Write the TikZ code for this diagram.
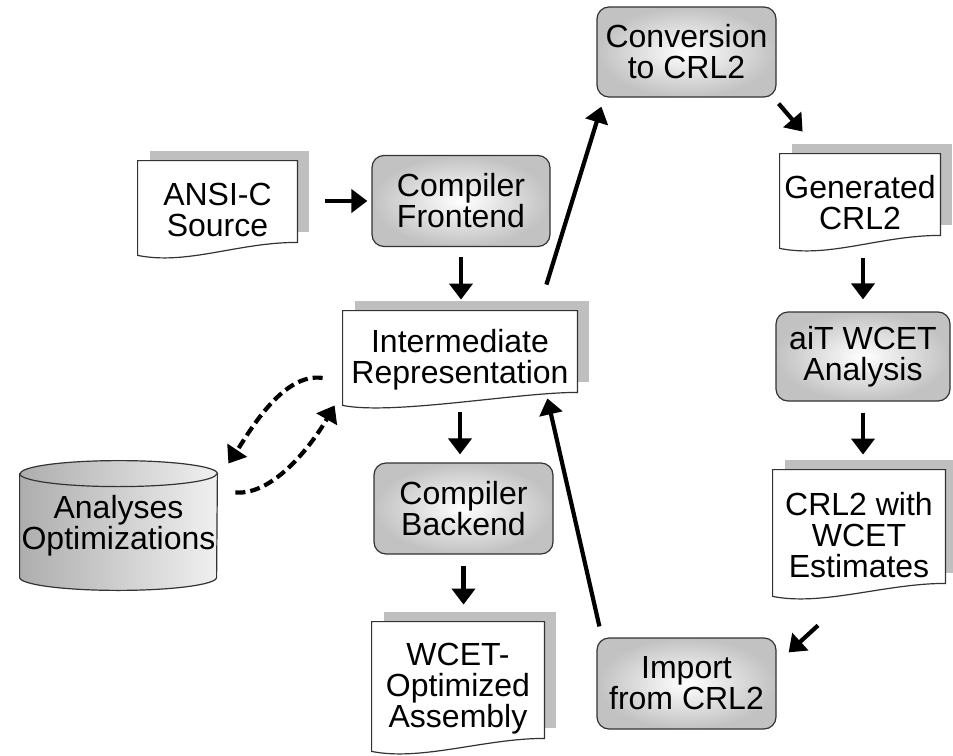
\documentclass[tikz,border=0pt]{standalone}
\usepackage{fontspec}
\setmainfont{Liberation Sans}
\usetikzlibrary{arrows.meta,backgrounds}
\begin{document}
\begin{tikzpicture}[x=0.5pt,y=-0.5pt]
  \tikzset{proc/.style = {draw=black!80, line width=0.6pt, rounded corners=6pt, inner color=white, outer color=black!24, inner sep=0pt, align=center, font=\fontsize{16}{15.5}\selectfont}}
  \tikzset{doc/.style = {inner sep=0pt, align=center, font=\fontsize{16}{15.5}\selectfont}}
  \tikzset{flow/.style = {-{Triangle[length=8pt,width=11.5pt]}, line width=2.1pt}}
  \tikzset{dflow/.style = {flow, dash pattern=on 5pt off 2.5pt}}
  \useasboundingbox (0,0) rectangle (953,755);
  % Draw processing steps
  \node[proc, minimum width=89.5pt, minimum height=45pt] (conv) at (686.5,52) {Conversion\\to CRL2};
  \node[proc, minimum width=89pt, minimum height=45.5pt] (front) at (461,201) {Compiler\\Frontend};
  \node[proc, minimum width=87pt, minimum height=44.5pt] (ait) at (863,356.5) {aiT WCET\\Analysis};
  \node[proc, minimum width=89.5pt, minimum height=45.5pt] (back) at (463.5,508.5) {Compiler\\Backend};
  \node[proc, minimum width=89.5pt, minimum height=45.5pt] (imp) at (686.5,683.5) {Import\\from CRL2};
  % Draw documents and the data store
  \node[doc, minimum width=79.5pt, minimum height=49pt] (ansi) at (217.5,210) {ANSI-C\\Source};
  \node[doc, minimum width=117pt, minimum height=49pt] (ir) at (460,360) {Intermediate\\Representation};
  \node[doc, minimum width=80pt, minimum height=49pt] (gen) at (860,203) {Generated\\CRL2};
  \node[doc, minimum width=86pt, minimum height=65pt] (est) at (859,535) {CRL2 with\\WCET\\Estimates};
  \node[doc, minimum width=86pt, minimum height=66.5pt] (asm) at (458,688.5) {WCET-\\Optimized\\Assembly};
  \node[doc, minimum width=98.5pt, minimum height=51.5pt] (store) at (118.5,525.5) {Analyses\\Optimizations};
  \begin{scope}[on background layer]
    \foreach \n in {ansi,ir,gen,est,asm} {
      \fill[black!25] ([shift={(12,-10)}]\n.north west) rectangle ([shift={(12,-27)}]\n.south east);
      \filldraw[fill=white, draw=black!80, line width=0.6pt] (\n.north west) -- (\n.north east) -- ([yshift=8.5pt]\n.south east)
        .. controls +(-30pt,0pt) and +(25pt,-5pt) .. ([yshift=2pt]\n.south west) -- cycle;
    }
    \shadedraw[left color=black!32, right color=black!6, draw=black!80, line width=0.6pt] (store.north west) -- (store.south west)
      arc[start angle=180, end angle=360, x radius=49.25pt, y radius=6.5pt] -- (store.north east)
      arc[start angle=0, end angle=180, x radius=49.25pt, y radius=6.5pt] -- cycle;
    \draw[draw=black!80, line width=0.6pt] (store.north west) arc[start angle=180, end angle=360, x radius=49.25pt, y radius=6.5pt];
  \end{scope}
  % Draw the flow
  \draw[flow, shorten <=14pt, shorten >=2pt] (ansi.east |- front.west) -- (front.west);
  \draw[flow, shorten <=5pt, shorten >=5.5pt] (front.south) -- (front.south |- ir.north);
  \draw[flow] ([shift={(-31,-26)}]ir.north east) -- ([shift={(5,9)}]conv.south west);
  \draw[flow] ([shift={(2,6)}]conv.south east) -- ([shift={(23,-22)}]gen.north west);
  \draw[flow, shorten <=3pt, shorten >=6pt] (gen.south -| ait.north) -- (ait.north);
  \draw[flow, shorten <=5.5pt, shorten >=7.5pt] (ait.south) -- (ait.south |- est.north);
  \draw[flow] ([shift={(-41,25)}]est.south) -- ([shift={(12,15)}]imp.north east);
  \draw[flow] ([shift={(3,-11)}]imp.north west) -- ([shift={(-30,-11)}]ir.south east);
  \draw[flow, shorten <=1.5pt, shorten >=4pt] (ir.south) -- (ir.south |- back.north);
  \draw[flow, shorten <=5.5pt, shorten >=8.5pt] (back.south) -- (back.south |- asm.north);
  % Draw the exchange with the analyses
  \draw[dflow] ([shift={(-20,18)}]ir.west) .. controls +(-40,-6) and +(20,-30) .. ([shift={(11,-62)}]store.east);
  \draw[dflow] ([shift={(18,-33)}]store.east) .. controls +(40,3) and +(-20,35) .. ([shift={(-8,-4)}]ir.south west);
\end{tikzpicture}
\end{document}
